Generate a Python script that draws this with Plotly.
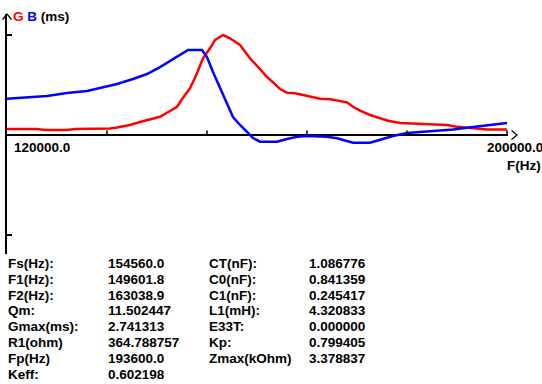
import plotly.graph_objects as go

# ---- data ----
freq_g = [120000, 124800, 126080, 129600, 130880, 136480, 137600, 139680, 141280, 142880,
          144480, 146080, 147200, 148160, 149280, 150400, 151360, 152480, 153280, 154560,
          155680, 157280, 158880, 160480, 161600, 162880, 163680, 164800, 166080, 167360,
          168960, 170080, 171680, 173280, 174400, 175360, 176480, 178080, 179680, 180960,
          182880, 186080, 190400, 191680, 194560, 196800, 200000]
g_ms = [0.164, 0.164, 0.137, 0.137, 0.164, 0.178, 0.206, 0.274, 0.356, 0.425,
        0.501, 0.658, 0.775, 1.022, 1.280, 1.691, 2.102, 2.376, 2.603, 2.741,
        2.650, 2.466, 2.102, 1.808, 1.589, 1.397, 1.260, 1.159, 1.143, 1.096,
        1.033, 0.995, 0.978, 0.940, 0.896, 0.775, 0.671, 0.548, 0.466, 0.392,
        0.329, 0.301, 0.274, 0.233, 0.192, 0.151, 0.151]

freq_b = [120000, 123200, 126400, 129600, 132800, 134880, 137600, 140160, 142400, 144480,
          146080, 147680, 148960, 151200, 152000, 152960, 154080, 155200, 156160, 157280,
          158400, 159360, 160480, 163200, 164800, 166400, 168000, 171200, 172800, 174400,
          175360, 178080, 179680, 180960, 181760, 184000, 188160, 191360, 194560, 197760,
          200000]
b_ms = [0.995, 1.022, 1.069, 1.151, 1.206, 1.288, 1.397, 1.534, 1.671, 1.863,
        2.028, 2.192, 2.329, 2.329, 2.137, 1.726, 1.288, 0.822, 0.493, 0.274,
        0.082, -0.082, -0.184, -0.184, -0.110, -0.047, -0.027, -0.047, -0.090, -0.164,
        -0.211, -0.211, -0.137, -0.063, -0.027, 0.055, 0.110, 0.151, 0.219, 0.288,
        0.329]

x_tick_vals = [136000, 152000, 168000, 184000, 200000]
y_tick_vals = [2.741313, -2.741313]
x_min_label = "120000.0"
x_max_label = "200000.0"
x_title = "F(Hz)"

labels_left = ["Fs(Hz):", "F1(Hz):", "F2(Hz):", "Qm:", "Gmax(ms):", "R1(ohm)", "Fp(Hz)", "Keff:"]
values_left = ["154560.0", "149601.8", "163038.9", "11.502447", "2.741313", "364.788757",
               "193600.0", "0.602198"]
labels_right = ["CT(nF):", "C0(nF):", "C1(nF):", "L1(mH):", "E33T:", "Kp:", "Zmax(kOhm)"]
values_right = ["1.086776", "0.841359", "0.245417", "4.320833", "0.000000", "0.799405",
                "3.378837"]

# ---- layout geometry ----
W, H = 542, 384
ML, MR, MT, MB = 7, 34, 14, 130
PW, PH = W - ML - MR, H - MT - MB
K = 0.02741313  # ms per pixel
XR = [120000, 120000 + PW * 160]
YR = [-(254 - 135) * K, (135 - 14) * K]


def px(x):
    return (x - ML) / PW


def py(y):
    return 1 - (y - MT) / PH


FONT = dict(family="Liberation Sans, Arial, sans-serif", size=13.5, color="black", weight="bold")

fig = go.Figure()
fig.add_trace(go.Scatter(x=freq_g, y=g_ms, mode="lines", line=dict(color="#ff0000", width=2.5),
                         name="G", hoverinfo="x+y"))
fig.add_trace(go.Scatter(x=freq_b, y=b_ms, mode="lines", line=dict(color="#0000ff", width=2.5),
                         name="B", hoverinfo="x+y"))

annotations = []
# header
annotations.append(dict(xref="paper", yref="paper", x=px(11), y=py(17), xanchor="left", yanchor="middle",
                        showarrow=False, font=FONT,
                        text="<span style='color:#ff0000'>G</span> <span style='color:#0000ff'>B</span> (ms)"))
annotations.append(dict(xref="paper", yref="paper", x=px(12), y=py(147), xanchor="left", yanchor="middle",
                        showarrow=False, font=FONT, text=x_min_label))
annotations.append(dict(xref="paper", yref="paper", x=px(485), y=py(147), xanchor="left", yanchor="middle",
                        showarrow=False, font=FONT, text=x_max_label))
annotations.append(dict(xref="paper", yref="paper", x=px(505), y=py(165), xanchor="left", yanchor="middle",
                        showarrow=False, font=FONT, text=x_title))

row0, dy = 263.5, 15.8
for i, (lab, val) in enumerate(zip(labels_left, values_left)):
    yy = py(row0 + i * dy)
    annotations.append(dict(xref="paper", yref="paper", x=px(6), y=yy, xanchor="left", yanchor="middle",
                            showarrow=False, font=FONT, text=lab))
    annotations.append(dict(xref="paper", yref="paper", x=px(106), y=yy, xanchor="left", yanchor="middle",
                            showarrow=False, font=FONT, text=val))
for i, (lab, val) in enumerate(zip(labels_right, values_right)):
    yy = py(row0 + i * dy)
    annotations.append(dict(xref="paper", yref="paper", x=px(207), y=yy, xanchor="left", yanchor="middle",
                            showarrow=False, font=FONT, text=lab))
    annotations.append(dict(xref="paper", yref="paper", x=px(307), y=yy, xanchor="left", yanchor="middle",
                            showarrow=False, font=FONT, text=val))

shapes = []
for xv in x_tick_vals:
    shapes.append(dict(type="line", xref="x", yref="y", x0=xv, x1=xv, y0=0, y1=4.5 * K,
                       line=dict(color="black", width=1.5)))
# y arrow head
shapes.append(dict(type="path", xref="paper", yref="paper",
                   path=f"M {px(2.5)},{py(19.5)} L {px(7)},{py(14)} L {px(11.5)},{py(19.5)}",
                   line=dict(color="black", width=1.2)))
# x arrow head
shapes.append(dict(type="path", xref="paper", yref="paper",
                   path=f"M {px(511.5)},{py(130.5)} L {px(517)},{py(135)} L {px(511.5)},{py(139.5)}",
                   line=dict(color="black", width=1.2)))

fig.update_layout(
    width=W, height=H, autosize=False,
    margin=dict(l=ML, r=MR, t=MT, b=MB, pad=0),
    paper_bgcolor="white", plot_bgcolor="white",
    showlegend=False,
    annotations=annotations,
    shapes=shapes,
    xaxis=dict(range=XR, showgrid=False, zeroline=False, showline=False, showticklabels=False,
               ticks="", fixedrange=True),
    yaxis=dict(range=YR, showgrid=False, zeroline=True, zerolinecolor="black", zerolinewidth=1.8,
               showline=True, linecolor="black", linewidth=1.8, mirror=False,
               ticks="inside", tickvals=y_tick_vals, ticklen=5, tickwidth=1.5, tickcolor="black",
               showticklabels=False, fixedrange=True),
)

fig.write_html("out.html", config={"displayModeBar": False},
               post_script="document.body.style.margin='0';document.body.style.overflow='hidden';")
